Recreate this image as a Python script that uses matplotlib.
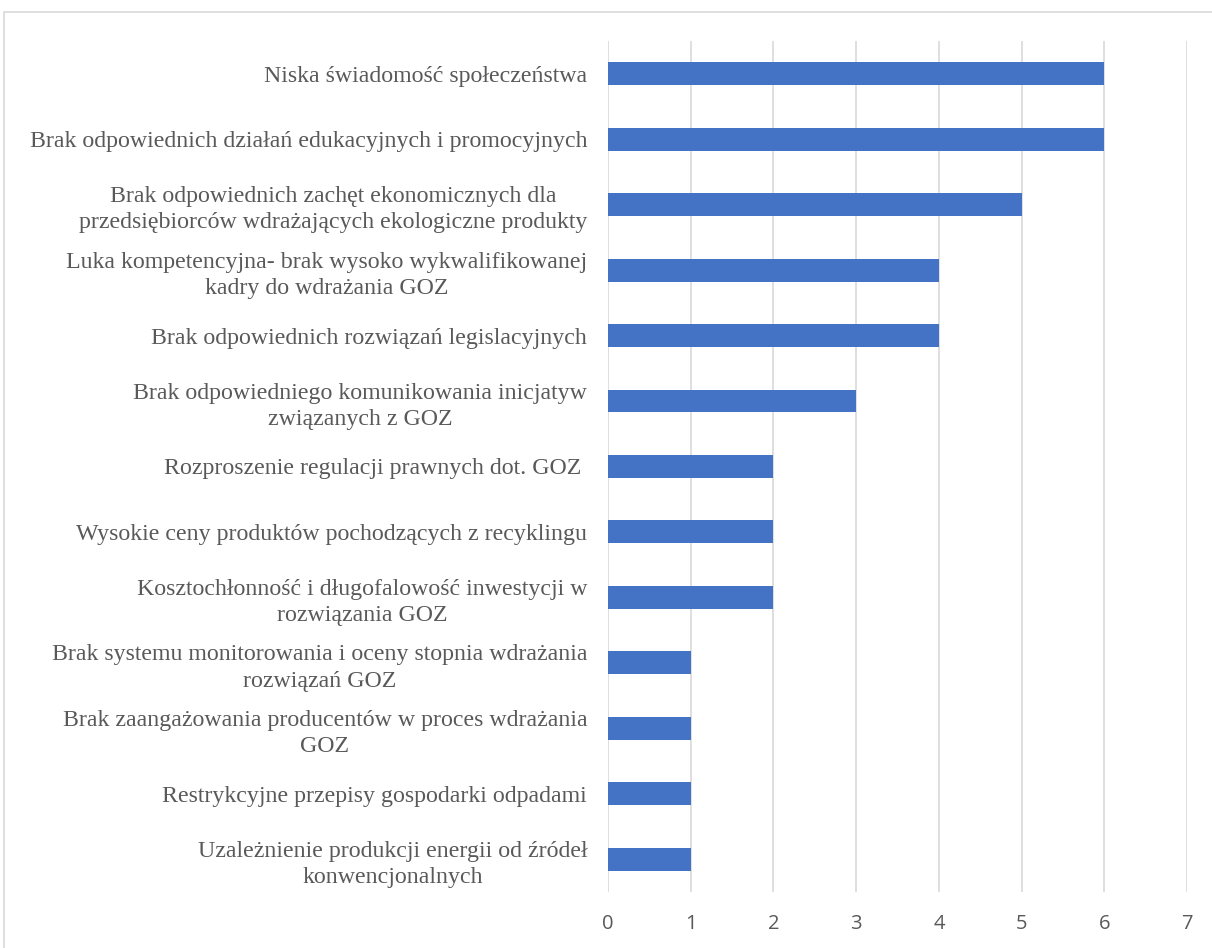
import matplotlib.pyplot as plt
from matplotlib.patches import Rectangle

categories = [
    "Niska świadomość społeczeństwa",
    "Brak odpowiednich działań edukacyjnych i promocyjnych",
    "Brak odpowiednich zachęt ekonomicznych dla\nprzedsiębiorców wdrażających ekologiczne produkty",
    "Luka kompetencyjna- brak wysoko wykwalifikowanej\nkadry do wdrażania GOZ",
    "Brak odpowiednich rozwiązań legislacyjnych",
    "Brak odpowiedniego komunikowania inicjatyw\nzwiązanych z GOZ",
    "Rozproszenie regulacji prawnych dot. GOZ ",
    "Wysokie ceny produktów pochodzących z recyklingu",
    "Kosztochłonność i długofalowość inwestycji w\nrozwiązania GOZ",
    "Brak systemu monitorowania i oceny stopnia wdrażania\nrozwiązań GOZ",
    "Brak zaangażowania producentów w proces wdrażania\nGOZ",
    "Restrykcyjne przepisy gospodarki odpadami",
    "Uzależnienie produkcji energii od źródeł\nkonwencjonalnych",
]
values = [6, 6, 5, 4, 4, 3, 2, 2, 2, 1, 1, 1, 1]
x_ticks = [0, 1, 2, 3, 4, 5, 6, 7]

fig = plt.figure(figsize=(12.12, 9.48), dpi=100)
ax = fig.add_axes([0.5017, 0.0591, 0.4777, 0.8977])

# chart border like the exported Excel frame
fig.patches.append(Rectangle((0.0035, -0.02), 1.05, 1 - 12 / 948 + 0.02,
                             transform=fig.transFigure, fill=False,
                             edgecolor="#d9d9d9", linewidth=1.2))

pos = list(range(len(categories)))
ax.barh(pos, values, height=0.35, color="#4472c4", zorder=3)

ax.set_ylim(len(categories) - 0.5, -0.5)
ax.set_xlim(0, 7)
ax.set_xticks(x_ticks)
ax.set_yticks(pos)
ax.set_yticklabels(categories, fontfamily="Liberation Serif", fontsize=17.2, color="#595959")
for lbl in ax.get_yticklabels():
    lbl.set_multialignment("center")
    lbl.set_linespacing(1.33)
ax.tick_params(axis="y", length=0, pad=15)
ax.tick_params(axis="x", length=0, pad=16, labelsize=14.5, labelcolor="#595959")
for lbl in ax.get_xticklabels():
    lbl.set_fontfamily("Open Sans")

ax.grid(axis="x", color="#d9d9d9", linewidth=1.2, zorder=0)
for s in ax.spines.values():
    s.set_visible(False)

fig.savefig("out.png", dpi=100)
